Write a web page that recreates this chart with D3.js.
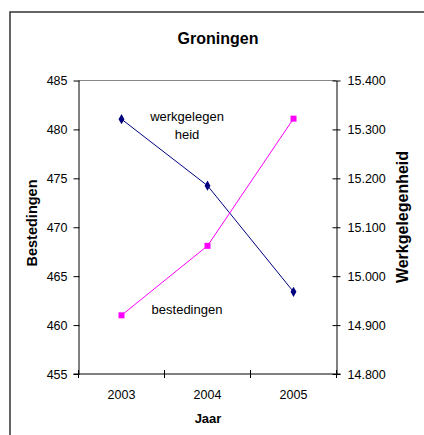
<!DOCTYPE html>
<html><head><meta charset="utf-8">
<script src="https://cdn.jsdelivr.net/npm/d3@7"></script>
<style>html,body{margin:0;padding:0;background:#fff;}svg{display:block;font-family:"Liberation Sans",Arial,sans-serif;}</style>
</head><body>
<svg id="c" width="424" height="435"></svg>
<script>
const years = ["2003", "2004", "2005"];
const bestedingen = [461.0, 468.1, 481.1];
const werkgelegenheid = [15321, 15185, 14968];
const leftTicks = [455, 460, 465, 470, 475, 480, 485];
const rightTicks = [14800, 14900, 15000, 15100, 15200, 15300, 15400];

const svg = d3.select("#c");
const L = 78.5, R = 336.5, T = 80.5, B = 374;

// outer border (only top & left visible)
svg.append("rect").attr("x", 10).attr("y", 12).attr("width", 440).attr("height", 460)
  .attr("fill", "none").attr("stroke", "#333").attr("stroke-width", 1.5);

const x = d3.scaleBand().domain(years).range([L, R]);
const yL = d3.scaleLinear().domain([455, 485]).range([B, T]);
const yR = d3.scaleLinear().domain([14800, 15400]).range([B, T]);

// top plot border
svg.append("line").attr("x1", L).attr("x2", R).attr("y1", T).attr("y2", T).attr("stroke", "#888").attr("stroke-width", 1);

// left axis
const gl = svg.append("g").attr("transform", `translate(${L},0)`)
  .call(d3.axisLeft(yL).tickValues(leftTicks).tickSize(5).tickSizeOuter(0).tickPadding(6));
gl.selectAll("text").attr("font-size", 12.5).attr("fill", "#000").attr("font-family", "Liberation Sans, Arial");
gl.selectAll(".tick line").attr("x1", 1).attr("x2", -5);

// right axis
const gr = svg.append("g").attr("transform", `translate(${R},0)`)
  .call(d3.axisRight(yR).tickValues(rightTicks).tickFormat(d => d3.format(".3f")(d / 1000)).tickSize(4).tickSizeOuter(0).tickPadding(7));
gr.selectAll("text").attr("font-size", 12.5).attr("fill", "#000").attr("font-family", "Liberation Sans, Arial");
gr.selectAll(".tick line").attr("x1", -4).attr("x2", 4);

// bottom axis
const tickPos = [L, ...years.slice(1).map(y => x(y)), R];
const gb = svg.append("g").attr("transform", `translate(0,${B})`);
gb.append("line").attr("x1", L - 5).attr("x2", R + 4).attr("stroke", "#000");
gb.selectAll("line.t").data(tickPos).join("line").attr("class", "t")
  .attr("x1", d => d).attr("x2", d => d).attr("y1", -4).attr("y2", 4).attr("stroke", "#000");
gb.selectAll("text").data(years).join("text")
  .attr("x", d => x(d) + x.bandwidth() / 2).attr("y", 25)
  .attr("text-anchor", "middle").attr("font-size", 12.5).text(d => d);

svg.selectAll(".domain").attr("stroke", "#000");
svg.selectAll(".tick line").attr("stroke", "#000");

const cx = d => x(d) + x.bandwidth() / 2;

// lines
svg.append("path").datum(years.map((y, i) => [cx(y), yR(werkgelegenheid[i])]))
  .attr("d", d3.line()).attr("fill", "none").attr("stroke", "#000080").attr("stroke-width", 1);
svg.append("path").datum(years.map((y, i) => [cx(y), yL(bestedingen[i])]))
  .attr("d", d3.line()).attr("fill", "none").attr("stroke", "#FF00FF").attr("stroke-width", 1);

// markers
svg.selectAll("path.dm").data(years).join("path").attr("class", "dm")
  .attr("transform", (d, i) => `translate(${cx(d)},${yR(werkgelegenheid[i])})`)
  .attr("d", d3.symbol().type(d3.symbolDiamond).size(30)).attr("fill", "#000080");
svg.selectAll("rect.sq").data(years).join("rect").attr("class", "sq")
  .attr("x", d => cx(d) - 3).attr("y", (d, i) => yL(bestedingen[i]) - 3)
  .attr("width", 6).attr("height", 6).attr("fill", "#FF00FF");

// in-plot labels
svg.append("text").attr("x", 187).attr("y", 121).attr("text-anchor", "middle").attr("font-size", 13).text("werkgelegen");
svg.append("text").attr("x", 187).attr("y", 138.5).attr("text-anchor", "middle").attr("font-size", 13).text("heid");
svg.append("text").attr("x", 187).attr("y", 314).attr("text-anchor", "middle").attr("font-size", 13).text("bestedingen");

// titles
svg.append("text").attr("x", 218).attr("y", 43.5).attr("text-anchor", "middle").attr("font-size", 16).attr("font-weight", "bold").text("Groningen");
svg.append("text").attr("x", 208).attr("y", 423).attr("text-anchor", "middle").attr("font-size", 13).attr("font-weight", "bold").text("Jaar");
svg.append("text").attr("transform", `translate(37,223) rotate(-90)`).attr("text-anchor", "middle").attr("font-size", 14.5).attr("font-weight", "bold").text("Bestedingen");
svg.append("text").attr("transform", `translate(408,217) rotate(-90)`).attr("text-anchor", "middle").attr("font-size", 16).attr("font-weight", "bold").text("Werkgelegenheid");
</script>
</body></html>
